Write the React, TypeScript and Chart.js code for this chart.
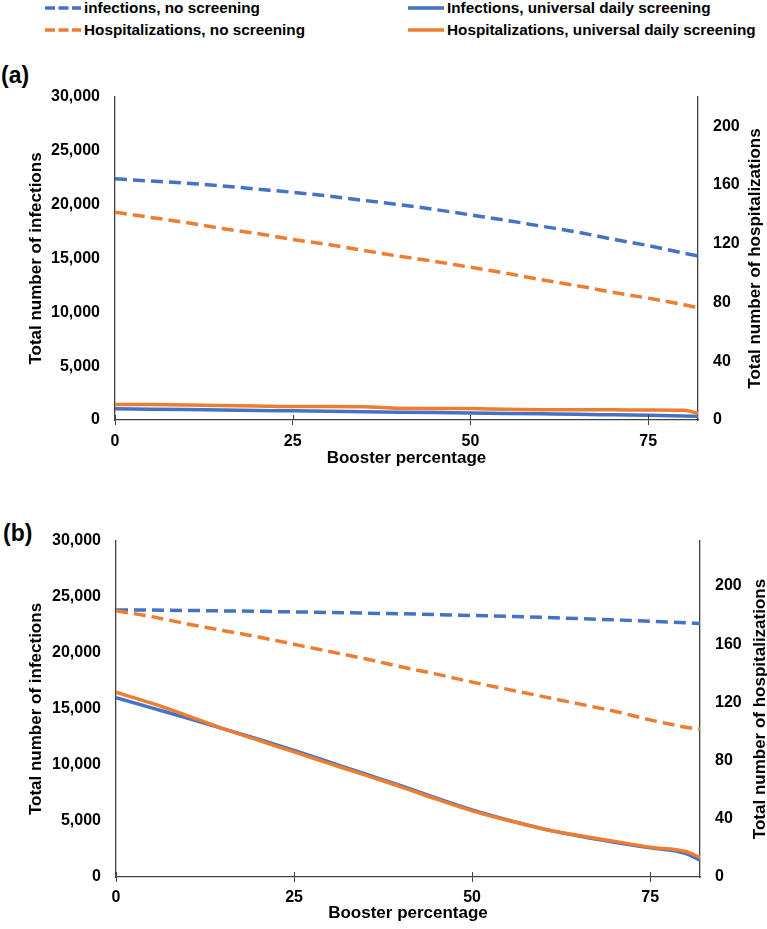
import React, { useEffect, useRef } from 'react';
import { Chart, registerables } from 'chart.js';

Chart.register(...registerables);

// ---------- data ----------
const boosterPct = [0, 5, 10, 15, 20, 25, 30, 35, 40, 45, 50, 55, 60, 65, 70, 75, 80, 82];

// Panel (a)
const aInfNoScreen = [22400, 22200, 22000, 21750, 21450, 21150, 20800, 20400, 20000, 19550, 19050, 18550, 18000, 17450, 16800, 16200, 15500, 15250];
const aHospNoScreen = [141.5, 138, 134.5, 130.5, 127, 123, 119.5, 115.5, 111.5, 108, 104, 100, 95.5, 91.5, 87, 83, 78.5, 76.5];
const aInfDaily = [1050, 1010, 970, 930, 890, 850, 810, 770, 730, 690, 650, 610, 570, 530, 480, 430, 380, 340];
const aHospDaily = [10.5, 10.5, 10.3, 9.8, 9.6, 9.2, 9.2, 9.1, 8.0, 7.9, 7.8, 7.3, 7.0, 6.9, 6.9, 6.8, 6.6, 4.5];

// Panel (b)
const bInfNoScreen = [23850, 23830, 23800, 23760, 23720, 23670, 23620, 23560, 23500, 23430, 23350, 23270, 23180, 23070, 22960, 22840, 22700, 22640];
const bHospNoScreen = [183, 179, 174, 169.5, 165, 160, 155, 150, 144.5, 139.5, 134, 129, 124, 119, 114, 108, 103, 101.5];
const bInfDaily = [16000, 15100, 14200, 13250, 12300, 11300, 10250, 9200, 8150, 7050, 6000, 5100, 4300, 3650, 3100, 2600, 2100, 1500];
const bHospDaily = [127, 119.5, 111, 102, 94, 86, 78, 70, 62, 53.5, 45.5, 39, 33, 28.5, 24.5, 20.5, 17.5, 13.5];

const xTicks = [0, 25, 50, 75];
const infTicks = [0, 5000, 10000, 15000, 20000, 25000, 30000];
const hospTicks = [0, 40, 80, 120, 160, 200];

const legendLabels = [
  'infections, no screening',
  'Infections, universal daily screening',
  'Hospitalizations, no screening',
  'Hospitalizations, universal daily screening',
];
const xTitle = 'Booster percentage';
const yTitle = 'Total number of infections';
const y1Title = 'Total number of hospitalizations';

// ---------- style ----------
const BLUE = '#4472C4';
const ORANGE = '#ED7D31';
const AXIS = '#404040';
const FONT = '"Liberation Sans", Arial, Helvetica, sans-serif';
const DASH = [12, 6];

const fmt = (v: number) => String(v).replace(/\B(?=(\d{3})+(?!\d))/g, ',');

type PanelProps = {
  infNo: number[];
  hospNo: number[];
  infDaily: number[];
  hospDaily: number[];
  hospMax: number;
  top: number;
  height: number;
  padTop: number;
  leftW: number;
  rightW: number;
  xAxisH: number;
  xTickPad: number;
  xTitlePad: number;
  rightTitleX: number;
};

const crossTicks = {
  id: 'crossTicks',
  afterDraw(chart: any) {
    const xs = chart.scales.x;
    const ctx = chart.ctx;
    const b = chart.chartArea.bottom;
    ctx.save();
    ctx.strokeStyle = AXIS;
    ctx.lineWidth = 1;
    xs.ticks.forEach((t: any) => {
      const px = Math.round(xs.getPixelForValue(t.value)) + 0.5;
      ctx.beginPath();
      ctx.moveTo(px, b - 5);
      ctx.lineTo(px, b);
      ctx.stroke();
    });
    ctx.restore();
  },
};

function Panel(p: PanelProps) {
  const ref = useRef<HTMLCanvasElement>(null);
  useEffect(() => {
    const pts = (arr: number[]) => boosterPct.map((x, i) => ({ x, y: arr[i] }));
    const tickFont = { family: FONT, size: 16, weight: 'bold' as const };
    const titleFont = { family: FONT, size: 17, weight: 'bold' as const };
    const rightTitle = {
      id: 'rightTitle',
      afterDraw(chart: any) {
        const ctx = chart.ctx;
        const ca = chart.chartArea;
        ctx.save();
        ctx.translate(p.rightTitleX, (ca.top + ca.bottom) / 2);
        ctx.rotate(-Math.PI / 2);
        ctx.font = `bold 17px ${FONT}`;
        ctx.fillStyle = '#000';
        ctx.textAlign = 'center';
        ctx.textBaseline = 'middle';
        ctx.fillText(y1Title, 0, 0);
        ctx.restore();
      },
    };
    const chart = new Chart(ref.current as HTMLCanvasElement, {
      type: 'line',
      data: {
        datasets: [
          { label: legendLabels[3], data: pts(p.hospDaily), yAxisID: 'y1', borderColor: ORANGE, backgroundColor: ORANGE, borderWidth: 3.5, order: 0 },
          { label: legendLabels[1], data: pts(p.infDaily), yAxisID: 'y', borderColor: BLUE, backgroundColor: BLUE, borderWidth: 3.5, order: 1 },
          { label: legendLabels[2], data: pts(p.hospNo), yAxisID: 'y1', borderColor: ORANGE, backgroundColor: ORANGE, borderWidth: 3.5, borderDash: DASH, order: 2 },
          { label: legendLabels[0], data: pts(p.infNo), yAxisID: 'y', borderColor: BLUE, backgroundColor: BLUE, borderWidth: 3.5, borderDash: DASH, order: 3 },
        ],
      },
      options: {
        animation: false,
        responsive: false,
        events: [],
        layout: { padding: { top: p.padTop, left: 0, right: 0, bottom: 0 } },
        elements: {
          point: { radius: 0 },
          line: { cubicInterpolationMode: 'monotone', borderCapStyle: 'butt', fill: false },
        },
        plugins: { legend: { display: false }, tooltip: { enabled: false }, title: { display: false } },
        scales: {
          x: {
            type: 'linear',
            min: 0,
            max: 82,
            afterBuildTicks: (s: any) => { s.ticks = xTicks.map((v) => ({ value: v })); },
            afterFit: (s: any) => { s.height = p.xAxisH; },
            ticks: { padding: p.xTickPad, font: tickFont, color: '#000', maxRotation: 0 },
            grid: { display: true, drawOnChartArea: false, drawTicks: true, tickLength: 5, color: AXIS, lineWidth: 1 },
            border: { display: true, color: AXIS, width: 1.3 },
            title: { display: true, text: xTitle, font: titleFont, color: '#000', padding: { top: 0, bottom: p.xTitlePad } },
          },
          y: {
            type: 'linear',
            position: 'left',
            min: 0,
            max: 30000,
            afterBuildTicks: (s: any) => { s.ticks = infTicks.map((v) => ({ value: v })); },
            afterFit: (s: any) => { s.width = p.leftW; },
            ticks: { padding: 15, font: tickFont, color: '#000', callback: (v: any) => fmt(Number(v)) },
            grid: { display: false, drawTicks: false },
            border: { display: true, color: AXIS, width: 1.3 },
            title: { display: true, text: yTitle, font: titleFont, color: '#000', padding: { top: 26.5, bottom: 0 } },
          },
          y1: {
            type: 'linear',
            position: 'right',
            min: 0,
            max: p.hospMax,
            afterBuildTicks: (s: any) => { s.ticks = hospTicks.map((v) => ({ value: v })); },
            afterFit: (s: any) => { s.width = p.rightW; },
            ticks: { padding: 15, font: tickFont, color: '#000' },
            grid: { display: false, drawTicks: false },
            border: { display: true, color: AXIS, width: 1.3 },
          },
        },
      } as any,
      plugins: [crossTicks, rightTitle],
    });
    return () => chart.destroy();
  }, []);
  return (
    <canvas
      ref={ref}
      width={767}
      height={p.height}
      style={{ position: 'absolute', left: 0, top: p.top, width: 767, height: p.height, display: 'block' }}
    />
  );
}

function LegendItem({ x, y, color, dashed, text }: { x: number; y: number; color: string; dashed: boolean; text: string }) {
  return (
    <div style={{ position: 'absolute', left: x, top: y - 12, height: 24, display: 'flex', alignItems: 'center', whiteSpace: 'nowrap' }}>
      <svg width={36} height={6} style={{ display: 'block' }}>
        <line x1={0} y1={3} x2={36} y2={3} stroke={color} strokeWidth={3.5} strokeDasharray={dashed ? '10 3.5' : undefined} />
      </svg>
      <span style={{ marginLeft: 3, font: `bold 15.3px ${FONT}`, color: '#000' }}>{text}</span>
    </div>
  );
}

export default function App() {
  return (
    <div style={{ position: 'absolute', left: 0, top: 0, width: 767, height: 929, background: '#fff', overflow: 'hidden' }}>
      <LegendItem x={45} y={8} color={BLUE} dashed text={legendLabels[0]} />
      <LegendItem x={408} y={8} color={BLUE} dashed={false} text={legendLabels[1]} />
      <LegendItem x={45} y={30} color={ORANGE} dashed text={legendLabels[2]} />
      <LegendItem x={408} y={30} color={ORANGE} dashed={false} text={legendLabels[3]} />
      <div style={{ position: 'absolute', left: 1, top: 62, font: `bold 23px ${FONT}`, lineHeight: '26px', color: '#000' }}>(a)</div>
      <div style={{ position: 'absolute', left: 3, top: 520, font: `bold 23px ${FONT}`, lineHeight: '26px', color: '#000' }}>(b)</div>
      <Panel
        infNo={aInfNoScreen}
        hospNo={aHospNoScreen}
        infDaily={aInfDaily}
        hospDaily={aHospDaily}
        hospMax={220}
        top={50}
        height={430}
        padTop={47}
        leftW={115}
        rightW={69}
        xAxisH={60}
        xTickPad={7}
        xTitlePad={11}
        rightTitleX={755}
      />
      <Panel
        infNo={bInfNoScreen}
        hospNo={bHospNoScreen}
        infDaily={bInfDaily}
        hospDaily={bHospDaily}
        hospMax={231}
        top={480}
        height={449}
        padTop={61}
        leftW={116}
        rightW={67}
        xAxisH={52}
        xTickPad={5.5}
        xTitlePad={5}
        rightTitleX={760}
      />
    </div>
  );
}
